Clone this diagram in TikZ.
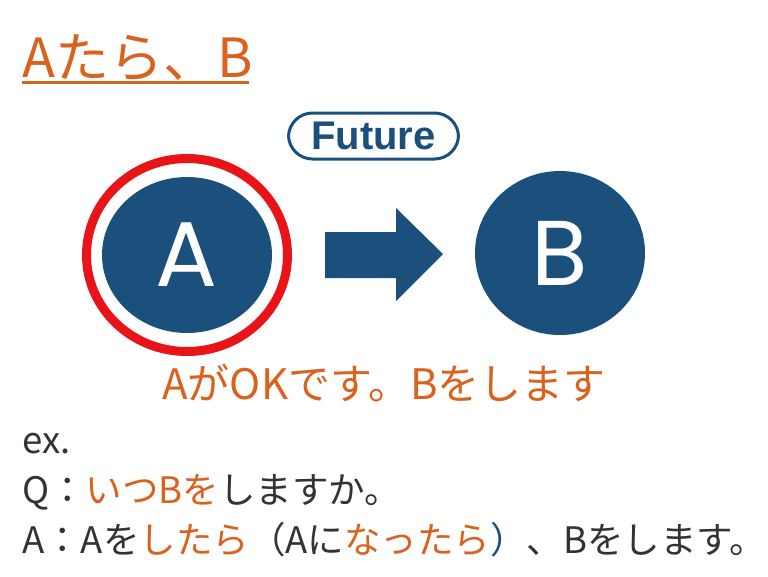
\documentclass[tikz,border=0pt]{standalone}
\usepackage{fontspec}
\usetikzlibrary{shapes.geometric}
\newfontfamily\jp{Noto Sans CJK JP}
\newfontfamily\pop{Poppins}
\newfontfamily\lib{Liberation Sans}
\definecolor{orng}{RGB}{218,98,30}
\definecolor{navy}{RGB}{27,80,125}
\definecolor{ringred}{RGB}{232,20,24}
\definecolor{txt}{RGB}{51,51,51}
\tikzset{
  bigletter/.style={ellipse, fill=navy, text=white, inner sep=0pt,
    font=\pop\fontsize{92}{92}\selectfont},
  line/.style={anchor=base west, inner sep=0pt, text=txt,
    font=\jp\fontsize{36.5}{36.5}\selectfont},
}
\begin{document}
\begin{tikzpicture}[x=1pt,y=-1pt]
\useasboundingbox (0,0) rectangle (768,576);
\fill[white] (0,0) rectangle (768,576);
% title
\node[anchor=base west, inner sep=0pt, text=orng, font=\jp\fontsize{54}{54}\selectfont] (title) at (22,77) {Aたら、B};
\coordinate (ulL) at (22,82);
\coordinate (ulR) at (249,82);
\draw[orng, line width=3pt] (ulL) -- (ulR);
% future pill
\node[draw=navy, line width=3pt, rounded corners=24pt, minimum width=170pt, minimum height=46pt,
  inner sep=0pt, text=navy, font=\lib\bfseries\fontsize{40}{40}\selectfont] (future) at (373.5,136) {Future};
% circles
\node[bigletter, minimum width=170pt, minimum height=156pt] (A) at (187,255) {A};
\node[ellipse, draw=ringred, line width=9pt, minimum width=201pt, minimum height=193pt, inner sep=0pt] (ring) at (187,255) {};
\node[bigletter, minimum width=170pt, minimum height=164pt] (B) at (560,253) {B};
% arrow
\fill[navy] (325,232) -- (396,232) -- (396,208) -- (443,254) -- (396,301) -- (396,278) -- (325,278) -- cycle;
% middle text
\node[anchor=base, inner sep=0pt, text=orng, font=\jp\fontsize{42}{42}\selectfont] (mid) at (384,399) {AがOKです。Bをします};
% bottom lines
\node[line] (ex) at (22,453) {ex.};
\node[line] (q) at (22,503) {Q：\textcolor{orng}{いつBを}しますか。};
\node[line] (a) at (22,553) {A：Aを\textcolor{orng}{したら}（Aに\textcolor{orng}{なったら}\textcolor{navy}{）}、Bをします。};
\end{tikzpicture}
\end{document}
